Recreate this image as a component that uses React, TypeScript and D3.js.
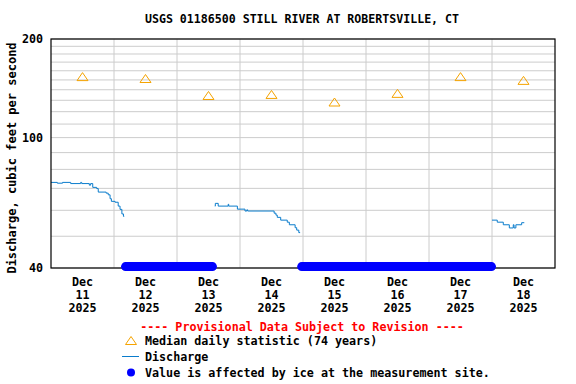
import React from 'react'
import { scaleLinear, scaleLog, line, curveStepAfter, range } from 'd3'

// hours since Dec 11 2025 00:00
const dayLabels = ['11', '12', '13', '14', '15', '16', '17', '18']
const yTickLabels = [40, 100, 200]
const yGridValues = range(40, 201, 10)

const medianValues = [153, 151, 134, 135, 128, 136, 153, 149]

const dischargeHours = [
  0, 2.4, 4.4, 7.5, 11.3, 11.7, 14.6, 15.1, 15.9, 17.4, 18.0, 21.0, 21.8, 22.5, 23.0, 24.4, 25.6, 26.3, 27.0, 27.6, 27.9,
  null,
  62.4, 62.6, 63.7, 67.5, 67.7, 71.0, 73.9, 74.6, 74.9, 85.0, 85.7, 86.2, 87.5, 90.0, 90.8, 93.0, 93.6, 94.4, 94.9,
  null,
  168.0, 170.0, 172.3, 174.6, 176.1, 176.4, 177.1, 179.3, 180.3,
]
const dischargeCfs = [
  73.0, 72.6, 73.0, 72.4, 73.0, 72.4, 71.6, 72.4, 70.5, 69.9, 68.2, 67.7, 66.9, 65.1, 63.9, 63.5, 61.8, 60.4, 58.5, 57.5, 57.5,
  null,
  61.8, 63.0, 61.8, 62.6, 61.8, 60.5, 59.7, 60.2, 59.7, 58.8, 58.0, 57.1, 56.0, 55.2, 54.2, 53.1, 52.2, 51.3, 51.3,
  null,
  56.0, 55.2, 54.2, 53.0, 54.2, 53.0, 54.2, 55.0, 55.0,
]

// ice-affected periods, start/end hours
const iceStart = [28.4, 95.5]
const iceEnd = [61.5, 167.8]
const iceLevel = 40.4

const font = '"DejaVu Sans Mono", monospace'

const App = () => {
  const width = 576
  const height = 384
  const margin = { top: 39, right: 21, bottom: 116, left: 51 }
  const innerBottom = height - margin.bottom
  const innerRight = width - margin.right

  const xScale = scaleLinear().domain([0, 192]).range([margin.left, innerRight])
  const yScale = scaleLog().domain([40, 200]).range([innerBottom, margin.top])

  const pts = dischargeHours.map((h, i) => [h, dischargeCfs[i]])
  const lineGen = line<any>()
    .defined(d => d[0] != null && d[1] != null)
    .x(d => xScale(d[0]))
    .y(d => yScale(d[1]))
    .curve(curveStepAfter)

  const tri = (cx: number, cy: number) =>
    `M${cx},${cy - 4.5}L${cx + 5.5},${cy + 3.5}L${cx - 5.5},${cy + 3.5}Z`

  return (
    <svg width={width} height={height} style={{ position: 'absolute', left: 0, top: 0, background: 'white' }}
      fontFamily={font} fontWeight='bold' fontSize={11.7}>
      {yGridValues.map(v => (
        <line key={v} x1={margin.left} x2={innerRight} y1={yScale(v)} y2={yScale(v)} stroke='#cccccc' />
      ))}
      {range(1, 8).map(d => (
        <line key={d} x1={xScale(d * 24)} x2={xScale(d * 24)} y1={margin.top} y2={innerBottom} stroke='#cccccc' />
      ))}

      {medianValues.map((v, i) => (
        <path key={i} d={tri(xScale(12 + 24 * i), yScale(v))} fill='none' stroke='#f5a300' strokeWidth={1} />
      ))}

      <path d={lineGen(pts) || ''} fill='none' stroke='#0a7ccc' strokeWidth={1} />

      <rect x={margin.left} y={margin.top} width={innerRight - margin.left} height={innerBottom - margin.top}
        fill='none' stroke='black' strokeWidth={1.2} />

      {iceStart.map((s, i) => (
        <line key={i} x1={xScale(s)} x2={xScale(iceEnd[i])} y1={yScale(iceLevel)} y2={yScale(iceLevel)}
          stroke='#0000ff' strokeWidth={9} strokeLinecap='round' />
      ))}

      {yTickLabels.map(v => (
        <text key={v} x={43} y={yScale(v) + 4} textAnchor='end'>{v}</text>
      ))}

      {dayLabels.map((d, i) => (
        <text key={d} x={xScale(12 + 24 * i)} textAnchor='middle'>
          <tspan x={xScale(12 + 24 * i)} y={286}>Dec</tspan>
          <tspan x={xScale(12 + 24 * i)} y={299}>{d}</tspan>
          <tspan x={xScale(12 + 24 * i)} y={312}>2025</tspan>
        </text>
      ))}

      <text x={302} y={23} textAnchor='middle' fontSize={11.6}>USGS 01186500 STILL RIVER AT ROBERTSVILLE, CT</text>

      <text transform={`translate(15.5,158) rotate(-90)`} textAnchor='middle' fontSize={12}>
        Discharge, cubic feet per second
      </text>

      <text x={302} y={330.5} textAnchor='middle' fill='#ff0000'>---- Provisional Data Subject to Revision ----</text>

      <path d={tri(131, 341)} fill='none' stroke='#f5a300' strokeWidth={1} />
      <text x={145} y={345}>Median daily statistic (74 years)</text>

      <line x1={122} x2={139} y1={356.5} y2={356.5} stroke='#0a7ccc' strokeWidth={1} />
      <text x={145} y={361}>Discharge</text>

      <circle cx={131} cy={372.5} r={4} fill='#0000ff' />
      <text x={145} y={376.5}>Value is affected by ice at the measurement site.</text>
    </svg>
  )
}

export default App
